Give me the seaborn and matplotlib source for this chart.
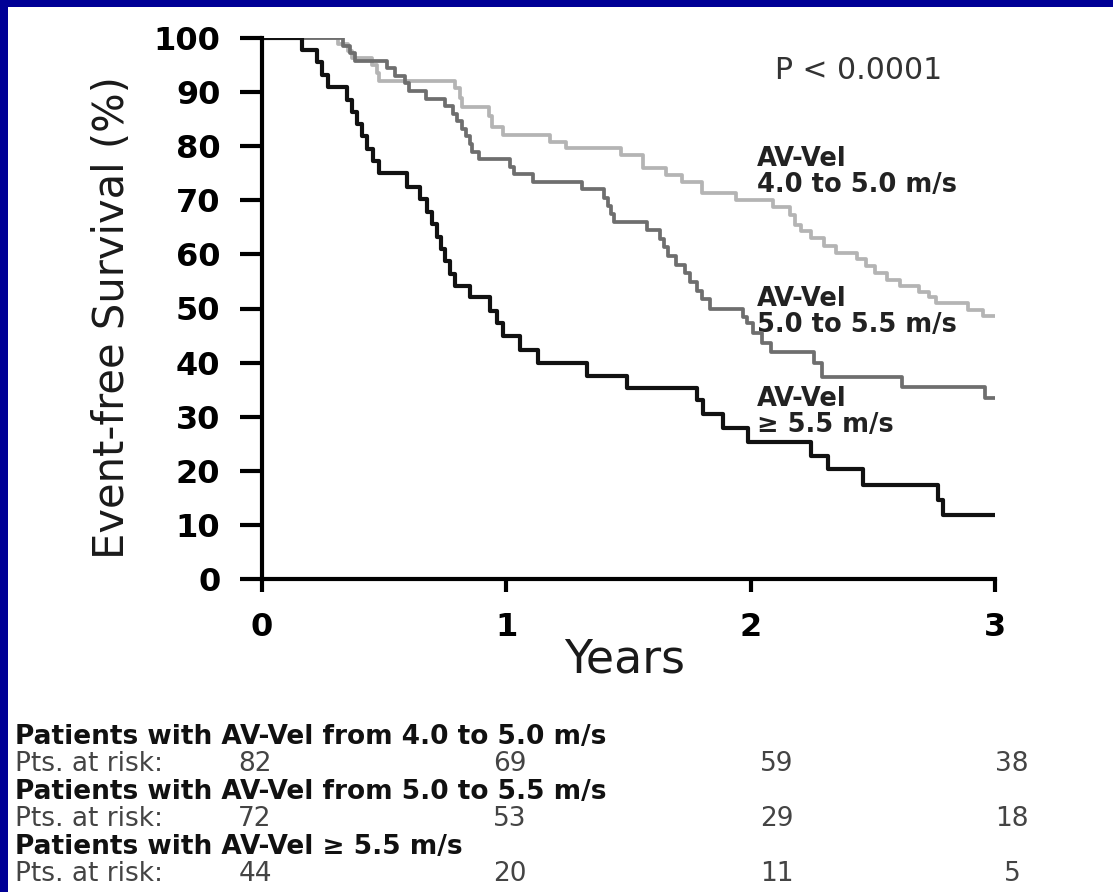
import matplotlib
matplotlib.use("Agg")
import matplotlib.pyplot as plt
import seaborn as sns
import pandas as pd
from matplotlib.patches import Rectangle

# ---------------- data ----------------
years_high = [0, 0.162, 0.224, 0.245, 0.27, 0.347, 0.37, 0.39, 0.41, 0.43, 0.455, 0.48,
              0.594, 0.647, 0.675, 0.696, 0.716, 0.733, 0.749, 0.77, 0.79, 0.85, 0.933,
              0.962, 0.986, 1.056, 1.13, 1.33, 1.494, 1.781, 1.805, 1.887, 1.989, 2.247,
              2.317, 2.46, 2.767, 2.788, 3.0]
surv_high = [100, 97.7, 95.5, 93.2, 90.9, 88.6, 86.4, 84.1, 81.8, 79.5, 77.3, 75.0,
             72.5, 70.2, 67.9, 65.6, 63.3, 61.0, 58.7, 56.4, 54.1, 52.1, 49.6,
             47.3, 44.9, 42.3, 39.9, 37.5, 35.3, 33.0, 30.5, 27.9, 25.3, 22.7,
             20.3, 17.4, 14.6, 11.8, 11.8]

years_mid = [0, 0.33, 0.36, 0.38, 0.51, 0.545, 0.585, 0.60, 0.67, 0.75, 0.78, 0.80,
             0.82, 0.835, 0.85, 0.86, 0.89, 1.015, 1.03, 1.11, 1.31, 1.40, 1.415, 1.43,
             1.44, 1.575, 1.63, 1.645, 1.66, 1.695, 1.73, 1.75, 1.78, 1.80, 1.835, 1.97,
             1.985, 2.01, 2.045, 2.085, 2.26, 2.29, 2.62, 2.96, 3.0]
surv_mid = [100, 98.6, 97.2, 95.8, 94.4, 93.0, 91.6, 90.2, 88.8, 87.4, 86.0, 84.6,
            83.2, 81.8, 80.4, 79.0, 77.6, 76.2, 74.8, 73.4, 72.0, 70.5, 69.0, 67.5,
            66.0, 64.5, 62.9, 61.3, 59.7, 58.1, 56.5, 54.9, 53.3, 51.7, 50.0, 48.5,
            47.3, 45.5, 43.6, 42.0, 39.9, 37.3, 35.4, 33.5, 33.5]

years_low = [0, 0.31, 0.35, 0.37, 0.45, 0.47, 0.48, 0.79, 0.81, 0.82, 0.93, 0.94,
             0.985, 1.18, 1.245, 1.47, 1.56, 1.655, 1.72, 1.80, 1.94, 2.09, 2.16,
             2.18, 2.205, 2.245, 2.30, 2.35, 2.435, 2.47, 2.51, 2.56, 2.61, 2.69,
             2.73, 2.76, 2.89, 2.95, 3.0]
surv_low = [100, 98.8, 97.6, 96.3, 95.1, 93.5, 92.0, 90.7, 89.0, 87.2, 85.5, 83.5,
            82.1, 80.8, 79.7, 78.4, 76.0, 74.7, 73.4, 71.3, 70.0, 68.8, 67.2,
            65.5, 64.3, 63.1, 61.6, 60.3, 59.2, 57.9, 56.6, 55.3, 54.1, 53.1,
            52.1, 51.0, 49.7, 48.6, 48.6]

curve_labels = ["AV-Vel\n4.0 to 5.0 m/s", "AV-Vel\n5.0 to 5.5 m/s", "AV-Vel\n\u2265 5.5 m/s"]
x_ticks = [0, 1, 2, 3]
y_ticks = [0, 10, 20, 30, 40, 50, 60, 70, 80, 90, 100]

group_titles = ["Patients with AV-Vel from 4.0 to 5.0 m/s",
                "Patients with AV-Vel from 5.0 to 5.5 m/s",
                "Patients with AV-Vel \u2265 5.5 m/s"]
at_risk_low = [82, 69, 59, 38]
at_risk_mid = [72, 53, 29, 18]
at_risk_high = [44, 20, 11, 5]

# ---------------- figure ----------------
sns.set_style("ticks")
plt.rcParams['font.family'] = ['DejaVu Sans']

W, H = 1113, 892
fig = plt.figure(figsize=(W / 100, H / 100), dpi=100)
fig.patch.set_facecolor('#000096')
fig.patches.append(Rectangle((8 / W, 0), 1 - 8 / W, 1 - 7 / H, transform=fig.transFigure,
                             facecolor='white', edgecolor='none', zorder=-10))

ax = fig.add_axes([262 / W, 1 - 579 / H, (995 - 262) / W, (579 - 38) / H])
ax.set_facecolor('none')
ax.set_zorder(5)

df = pd.concat([
    pd.DataFrame({'Years': years_low, 'Survival': surv_low, 'grp': 'low'}),
    pd.DataFrame({'Years': years_mid, 'Survival': surv_mid, 'grp': 'mid'}),
    pd.DataFrame({'Years': years_high, 'Survival': surv_high, 'grp': 'high'}),
])
styles = {'low': ('#b4b4b4', 2.7), 'mid': ('#6e6e6e', 2.7), 'high': ('#111111', 3.0)}
for g in ['low', 'mid', 'high']:
    sub = df[df['grp'] == g]
    c, lw = styles[g]
    sns.lineplot(data=sub, x='Years', y='Survival', ax=ax, color=c, linewidth=lw,
                 drawstyle='steps-post', estimator=None, sort=False, legend=False)

ax.set_xlim(0, 3)
ax.set_ylim(0, 100)
ax.margins(0)
sns.despine(ax=ax)
for s in ['left', 'bottom']:
    ax.spines[s].set_linewidth(3)
    ax.spines[s].set_color('black')
    ax.spines[s].set_capstyle('projecting')
ax.set_xticks(x_ticks)
ax.set_yticks(y_ticks)
ax.set_xticklabels([str(v) for v in x_ticks], fontsize=23, fontweight='bold', color='black')
ax.set_yticklabels([str(v) for v in y_ticks], fontsize=23, fontweight='bold', color='black')
ax.tick_params(axis='y', direction='out', length=16, width=3, pad=14, color='black')
ax.tick_params(axis='x', direction='out', length=9.5, width=3, pad=14, color='black')
ax.set_xlabel('')
ax.set_ylabel('')

fig.text(625 / W, 1 - 660 / H, 'Years', fontsize=33, ha='center', va='center', color='#1a1a1a')
fig.text(112 / W, 1 - 318 / H, 'Event-free Survival (%)', fontsize=30, rotation=90,
         ha='center', va='center', color='#1a1a1a')

ax.text(0.70, 0.94, 'P < 0.0001', transform=ax.transAxes, fontsize=21.5, color='#333333',
        ha='left', va='center')

label_pos = [(757, 172), (757, 312), (757, 412)]
for (px, py), lab in zip(label_pos, curve_labels):
    fig.text(px / W, 1 - py / H, lab, fontsize=18.5, fontweight='bold', color='#222222',
             ha='left', va='center', linespacing=0.95)

# at-risk table
row_y = [737, 764, 792, 819, 847, 874]
num_x = [255, 510, 777, 1012]
risk_rows = [at_risk_low, at_risk_mid, at_risk_high]
for i, (title, risks) in enumerate(zip(group_titles, risk_rows)):
    fig.text(15 / W, 1 - row_y[2 * i] / H, title, fontsize=19, fontweight='bold',
             color='#111111', ha='left', va='center')
    fig.text(15 / W, 1 - row_y[2 * i + 1] / H, 'Pts. at risk:', fontsize=19,
             color='#444444', ha='left', va='center')
    for nx, r in zip(num_x, risks):
        fig.text(nx / W, 1 - row_y[2 * i + 1] / H, str(r), fontsize=19,
                 color='#444444', ha='center', va='center')

fig.savefig('out.png', dpi=100, facecolor=fig.get_facecolor())
